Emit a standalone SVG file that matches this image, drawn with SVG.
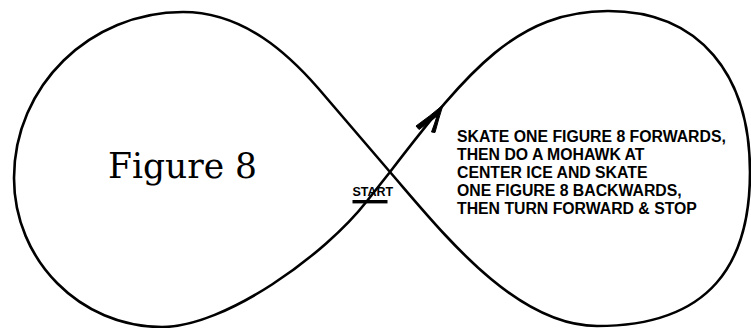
<svg xmlns="http://www.w3.org/2000/svg" width="751" height="328" viewBox="0 0 751 328">
<style>
.track{fill:none;stroke:#000;stroke-width:2.6;stroke-linejoin:round;stroke-linecap:round}
.title{font-family:"DejaVu Serif",serif;font-size:36px;fill:#000}
.note{font-family:"Liberation Sans",Arial,sans-serif;font-weight:bold;font-size:15.8px;fill:#000}
.start{font-family:"Liberation Sans",Arial,sans-serif;font-weight:bold;font-size:12.5px;fill:#000}
</style>
<rect width="751" height="328" fill="#fff"/>
<g id="connectors">
<path class="track" d="M 367 201 L 390 172 C 469 69, 518 11, 608 11 C 700 11, 750 75, 750 172 C 750 262, 712 326, 597 326 C 515 326, 442 232, 390 172 L 318 88 C 290 56, 245 12, 183 12 C 90 12, 14 86, 14 178 C 14 260, 80 327, 162 327 C 225 327, 325 255, 367 201 Z"/>
<path d="M 443 105 Q 430 116 416 126 L 419 129.5 Q 431 121 437 116 Q 434.5 124 431.5 132 L 435 132.5 Q 438.5 119 443 105 Z" fill="#000" stroke="#000" stroke-width="1" stroke-linejoin="round"/>
</g>
<g id="start">
<rect x="352.5" y="200" width="35" height="3.4" fill="#000"/>
<text class="start" x="352.5" y="196">START</text>
</g>
<g id="title">
<text class="title" x="108" y="178" textLength="149" lengthAdjust="spacingAndGlyphs">Figure 8</text>
</g>
<g id="instructions">
<text class="note" x="457" y="142">SKATE ONE FIGURE 8 FORWARDS,</text>
<text class="note" x="457" y="160.1">THEN DO A MOHAWK AT</text>
<text class="note" x="457" y="178.2">CENTER ICE AND SKATE</text>
<text class="note" x="457" y="196.3">ONE FIGURE 8 BACKWARDS,</text>
<text class="note" x="457" y="214.4">THEN TURN FORWARD &amp; STOP</text>
</g>
</svg>
